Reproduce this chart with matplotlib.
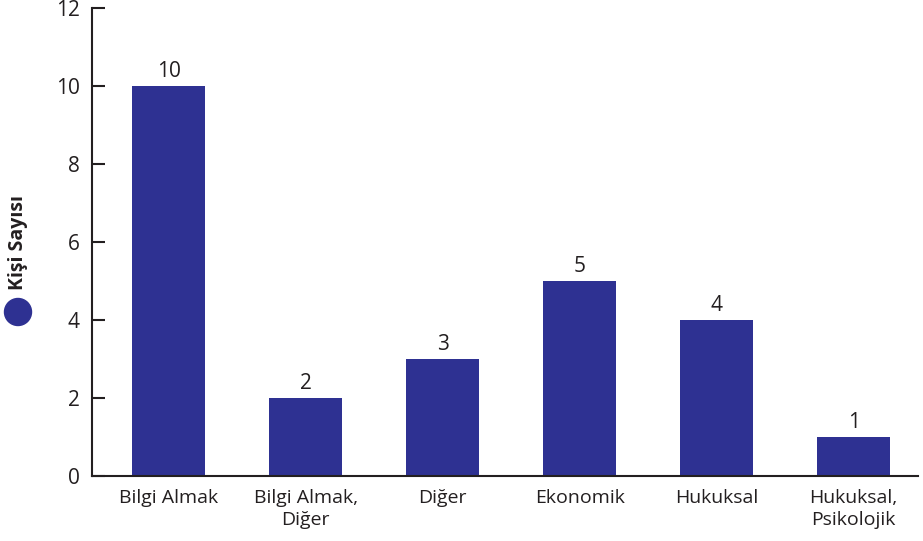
import matplotlib.pyplot as plt
from matplotlib.patches import Ellipse

# categories and counts
categories = ['Bilgi Almak', 'Bilgi Almak,\nDiğer', 'Diğer', 'Ekonomik', 'Hukuksal', 'Hukuksal,\nPsikolojik']
counts = [10, 2, 3, 5, 4, 1]
y_ticks = [0, 2, 4, 6, 8, 10, 12]

bar_color = '#2E3192'
plt.rcParams['font.family'] = ['Open Sans', 'DejaVu Sans']

fig = plt.figure(figsize=(9.23, 5.41), dpi=100)
ax = fig.add_axes([0.0997, 0.12, 0.8949, 0.865])

x = range(len(categories))
bars = ax.bar(x, counts, width=0.53, color=bar_color)

# value labels above bars
for xi, v in zip(x, counts):
    ax.text(xi, v + 0.1, str(v), ha='center', va='bottom', fontsize=15, color='#231f20')

ax.set_xlim(-0.56, 5.47)
ax.set_ylim(0, 12)
ax.set_yticks(y_ticks)
ax.set_xticks(list(x))
ax.set_xticklabels(categories, fontsize=14, color='#231f20', linespacing=1.3)
ax.tick_params(axis='x', length=0, pad=9)
ax.tick_params(axis='y', direction='in', length=9, width=1.5, labelsize=15, pad=9, colors='#231f20')

for side in ['top', 'right']:
    ax.spines[side].set_visible(False)
for side in ['left', 'bottom']:
    ax.spines[side].set_linewidth(1.5)
    ax.spines[side].set_color('#231f20')

# legend: circle marker plus rotated label
fig.patches.append(Ellipse((18 / 923, 1 - 312 / 541), 27 / 923, 27 / 541,
                           transform=fig.transFigure, color=bar_color))
fig.text(18 / 923, 1 - 290 / 541, 'Kişi Sayısı', rotation=90, ha='center', va='bottom',
         fontsize=14, fontweight='bold', color='#231f20')

fig.savefig('out.png', dpi=100)
